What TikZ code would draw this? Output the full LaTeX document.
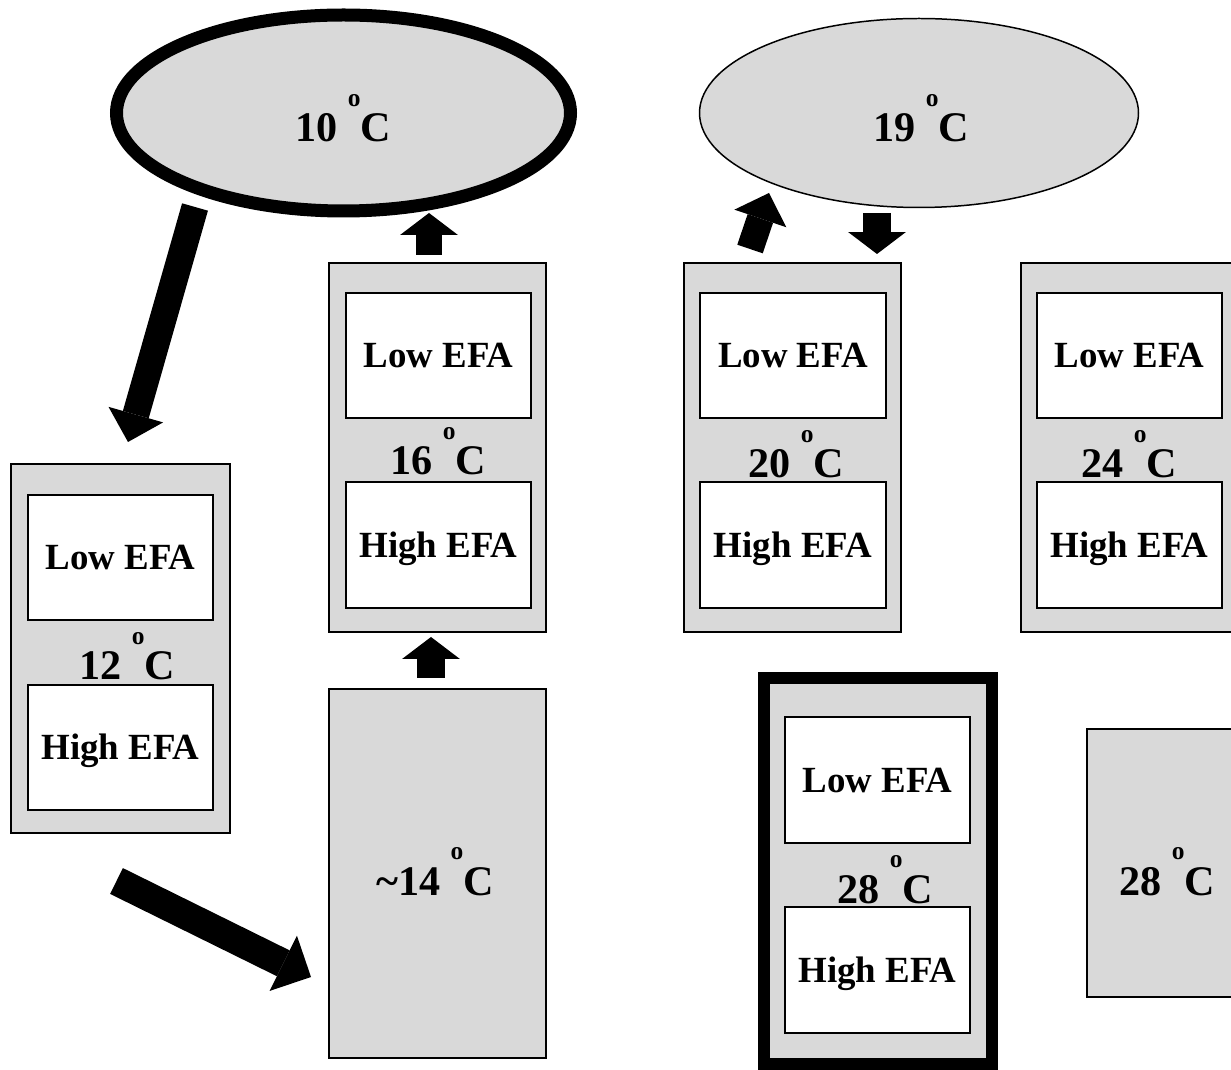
\documentclass[tikz,border=0pt]{standalone}
\usepackage{fontspec}
\setmainfont{Liberation Serif}
\usetikzlibrary{arrows.meta,shapes.geometric}
\definecolor{boxgray}{RGB}{217,217,217}
\newcommand{\degsym}{ \raisebox{20.4pt}{\fontsize{14.5}{14.5}\selectfont o}}
\begin{document}
\begin{tikzpicture}[x=0.02cm,y=-0.02cm,
  sz/.style 2 args={minimum width=#1*0.02cm, minimum height=#2*0.02cm},
  outerbox/.style={rectangle, draw=black, fill=boxgray, line width=1.1pt, inner sep=0pt},
  thickbox/.style={outerbox, line width=6.8pt},
  innerbox/.style={rectangle, draw=black, fill=white, line width=1.1pt, inner sep=0pt,
     font=\fontsize{21}{25}\selectfont\bfseries, text height=13.9pt, text depth=0pt},
  templabel/.style={anchor=base, inner sep=0pt, font=\fontsize{24}{28}\selectfont\bfseries},
  oval/.style={ellipse, draw=black, fill=boxgray, inner sep=0pt},
  blockarrow/.style n args={3}{draw=black, line width=#1, -{Triangle[width=#2, length=#3, line width=0pt]}}
]
\useasboundingbox (0,0) rectangle (1231,1070);
\clip (0,0) rectangle (1231,1070);

% ovals
\node[oval, line width=7.4pt, sz={454}{196}] (e10) at (343.5,113) {};
\node[oval, line width=0.85pt, sz={439}{189}] (e19) at (919,113) {};
\node[templabel] (t10) at (343,142) {10\degsym C};
\node[templabel] (t19) at (921,142) {19\degsym C};

% 12 C box
\node[outerbox, sz={219}{369}] (b12) at (120.5,648.5) {};
\node[innerbox, sz={185}{125}] (b12low) at (120.5,557.5) {Low EFA};
\node[innerbox, sz={185}{125}] (b12high) at (120.5,747.5) {High EFA};
\node[templabel] (t12) at (127,680) {12\degsym C};

% 16 C box
\node[outerbox, sz={217}{369}] (b16) at (437.5,447.5) {};
\node[innerbox, sz={185}{125}] (b16low) at (438.5,355.5) {Low EFA};
\node[innerbox, sz={185}{126}] (b16high) at (438.5,545) {High EFA};
\node[templabel] (t16) at (438,475) {16\degsym C};

% ~14 C box
\node[outerbox, sz={217}{369}] (b14) at (437.5,873.5) {};
\node[templabel] (t14) at (435,895) {\textasciitilde14\degsym C};

% 20 C box
\node[outerbox, sz={217}{369}] (b20) at (792.5,447.5) {};
\node[innerbox, sz={186}{125}] (b20low) at (793,355.5) {Low EFA};
\node[innerbox, sz={186}{126}] (b20high) at (793,545) {High EFA};
\node[templabel] (t20) at (796,478) {20\degsym C};

% 24 C box
\node[outerbox, sz={219}{369}] (b24) at (1130.5,447.5) {};
\node[innerbox, sz={185}{125}] (b24low) at (1129.5,355.5) {Low EFA};
\node[innerbox, sz={185}{126}] (b24high) at (1129.5,545) {High EFA};
\node[templabel] (t24) at (1129,478) {24\degsym C};

% 28 C thick box
\node[thickbox, sz={228}{386}] (b28) at (878,871) {};
\node[innerbox, sz={185}{126}] (b28low) at (877.5,780) {Low EFA};
\node[innerbox, sz={185}{126}] (b28high) at (877.5,970) {High EFA};
\node[templabel] (t28) at (885,903) {28\degsym C};

% 28 C plain box
\node[outerbox, sz={158}{268}] (b28r) at (1166,863) {};
\node[templabel] (t28r) at (1167,895) {28\degsym C};

% arrow end points
\coordinate (a1s) at (195,207);   \coordinate (a1e) at (128,442);
\coordinate (a2s) at (116.5,881); \coordinate (a2e) at (311,977);
\coordinate (a3s) at (429,255);   \coordinate (a3e) at (429,213);
\coordinate (a4s) at (431,678);   \coordinate (a4e) at (431,637);
\coordinate (a5s) at (750,249);   \coordinate (a5e) at (769,193);
\coordinate (a6s) at (877,213);   \coordinate (a6e) at (877,254);

\draw[blockarrow={15.3pt}{32.3pt}{16.2pt}] (a1s) -- (a1e);
\draw[blockarrow={16.4pt}{35.1pt}{17.6pt}] (a2s) -- (a2e);
\draw[blockarrow={15.3pt}{32.9pt}{12.5pt}] (a3s) -- (a3e);
\draw[blockarrow={16.4pt}{32.9pt}{12.5pt}] (a4s) -- (a4e);
\draw[blockarrow={15.3pt}{31.2pt}{15.3pt}] (a5s) -- (a5e);
\draw[blockarrow={16.4pt}{32.9pt}{12.5pt}] (a6s) -- (a6e);
\end{tikzpicture}
\end{document}
